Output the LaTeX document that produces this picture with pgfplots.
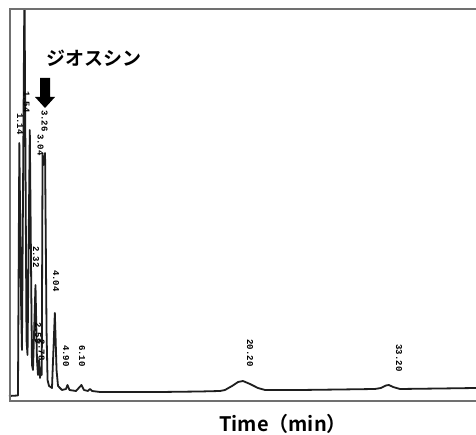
\documentclass[border=0pt]{standalone}
\usepackage{pgfplots}
\pgfplotsset{compat=1.18}
\usepackage{fontspec}
\setmainfont{Liberation Sans}
\newfontfamily\jp{Noto Sans CJK JP}[BoldFont={Noto Sans CJK JP Bold}]
\newfontfamily\mono{Liberation Mono}
\definecolor{framegray}{RGB}{112,112,112}
\definecolor{trace}{RGB}{30,30,30}
\begin{document}
\begin{tikzpicture}[x=1pt,y=1pt]
\useasboundingbox (0,0) rectangle (476,435);
\fill[white] (0,0) rectangle (476,435);
\begin{axis}[name=ax, at={(9pt,34pt)}, anchor=south west, scale only axis,
  width=467pt, height=392pt, xmin=-0.088, xmax=40.95, ymin=0, ymax=392, hide axis]
\addplot[trace, line width=1.8pt, line join=round] coordinates {
(-0.09,5) (0.70,5.5) (0.82,258) (0.97,101) (1.05,51) (1.27,420) (1.45,61) (1.54,46)
(1.74,271) (1.93,36) (2.02,31) (2.24,116) (2.37,41) (2.46,26) (2.55,41) (2.64,23)
(2.72,33) (2.79,26) (2.86,246) (2.94,236) (3.08,248) (3.21,71) (3.30,21) (3.43,15)
(3.69,13) (3.94,88) (4.09,31) (4.22,15) (4.57,11) (4.92,12) (5.05,16) (5.23,11)
(5.80,10) (6.28,16) (6.50,11) (6.85,10) (7.03,12) (7.21,10) (7.91,9) (10.54,9)
(13.18,9) (16.70,9.5) (18.45,10) (18.89,11) (19.51,15) (20.04,19) (20.47,20)
(21.09,17) (21.79,13) (22.41,11) (25.48,11) (29.00,11.5) (32.07,12) (32.60,13)
(33.04,15.5) (33.30,16) (33.66,14) (34.27,12) (37.79,12.5) (40.95,13)
};
\end{axis}
\draw[framegray, line width=2.5pt] (480,34) -- (10,34) -- (10,426) -- (480,426);
% peak labels
\begin{scope}[every node/.style={rotate=-90, inner sep=0pt, font=\mono\bfseries\fontsize{9}{9}\selectfont, text=black}]
\node at (20,311) {1.14};
\node at (26.5,333) {1.54};
\node at (44.5,314) {3.26};
\node at (40.5,290) {3.04};
\node at (36,178) {2.32};
\node at (38,102) {2.59};
\node at (41.5,85) {2.78};
\node at (56,154) {4.04};
\node at (66,79) {4.90};
\node at (82,79) {6.10};
\node at (250,82) {20.20};
\node at (399,77) {33.20};
\end{scope}
% title and arrow
\node[inner sep=0pt] at (94,376.5) {\jp\bfseries\fontsize{19}{20}\selectfont ジオスシン};
\fill[black] (40,357) -- (50,357) -- (50,338) -- (55,338) -- (45,327) -- (35,338) -- (40,338) -- cycle;
\node[inner sep=0pt, anchor=base] at (283,3) {\jp\bfseries\fontsize{20}{22}\selectfont Time（min）};
\end{tikzpicture}
\end{document}
